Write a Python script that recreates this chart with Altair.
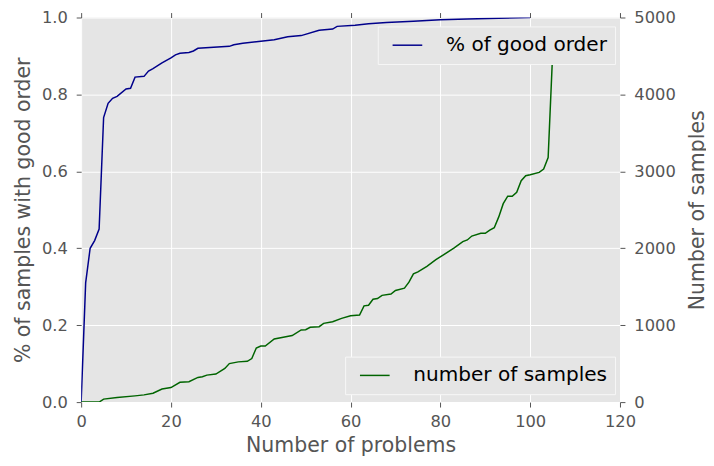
import altair as alt
import pandas as pd

# % of samples with good order (left axis)
blue_x = [0, 1, 2, 3, 4, 5, 6, 7, 8, 10, 11, 12, 14, 15, 16, 18, 20, 21, 22, 24, 25, 26,
          33, 34, 36, 39, 43, 46, 49, 53, 56, 57, 61, 64, 68, 74, 80, 86, 93, 100]
blue_y = [0.0, 0.31, 0.40, 0.42, 0.45, 0.74, 0.777, 0.79, 0.795, 0.814, 0.816, 0.845,
          0.847, 0.861, 0.867, 0.882, 0.895, 0.903, 0.907, 0.909, 0.913, 0.92, 0.925,
          0.929, 0.933, 0.937, 0.942, 0.95, 0.953, 0.967, 0.97, 0.977, 0.98, 0.984,
          0.987, 0.99, 0.994, 0.996, 0.998, 1.0]

# number of samples (right axis)
green_x = [0, 4, 5, 8, 12, 14, 16, 18, 20, 22, 24, 26, 27, 28, 30, 32, 33, 35, 37, 38, 39,
           40, 41, 43, 45, 47, 49, 50, 51, 53, 54, 56, 58, 60, 62, 63, 64, 65, 66, 67, 69,
           70, 72, 73, 74, 75, 77, 79, 83, 85, 86, 87, 89, 90, 91, 92, 93, 94, 95, 96, 97,
           98, 99, 100, 102, 103, 104, 105, 106]
green_v = [0, 0, 39, 60, 81, 94, 116, 171, 189, 257, 266, 321, 330, 351, 364, 437, 501,
           523, 531, 566, 703, 729, 729, 820, 844, 865, 938, 942, 973, 981, 1024, 1045,
           1089, 1122, 1131, 1251, 1260, 1337, 1346, 1388, 1405, 1452, 1482, 1559, 1667,
           1693, 1765, 1851, 2001, 2086, 2108, 2159, 2194, 2194, 2237, 2267, 2408, 2580,
           2677, 2677, 2729, 2879, 2943, 2956, 2986, 3029, 3179, 4529, 4658]

x_ticks = [0, 20, 40, 60, 80, 100, 120]
left_ticks = [0.0, 0.2, 0.4, 0.6, 0.8, 1.0]
right_ticks = [0, 1000, 2000, 3000, 4000, 5000]

blue_df = pd.DataFrame({"x": blue_x, "y": blue_y, "s": "% of good order"})
green_df = pd.DataFrame({"x": green_x, "v": green_v, "s": "number of samples"})

FONT = "DejaVu Sans"
GRAY = "#555555"

common_axis = dict(labelFont=FONT, labelFontSize=16.5, labelColor=GRAY,
                   titleFont=FONT, titleFontSize=20.7, titleColor=GRAY,
                   titleFontWeight="normal", tickColor=GRAY, tickSize=5,
                   domain=False, labelFlush=False)

def legend(x, y):
    return alt.Legend(title=None, orient="none", legendX=x, legendY=y,
                      fillColor="#E5E5E5", strokeColor="#F7F7F7", padding=8,
                      cornerRadius=0, symbolType="M-1.5,0H1.5", symbolSize=400,
                      symbolStrokeWidth=1.5, symbolOffset=11, labelOffset=28,
                      labelFont=FONT, labelFontSize=20.3, labelColor="black",
                      labelLimit=400)

xscale = alt.Scale(domain=[0, 120], nice=False)

blue = alt.Chart(blue_df).mark_line(strokeWidth=1.5, clip=True).encode(
    x=alt.X("x:Q", scale=xscale,
            axis=alt.Axis(values=x_ticks, title="Number of problems", grid=True,
                          gridColor="white", gridWidth=1, labelPadding=7,
                          titlePadding=5, **common_axis)),
    y=alt.Y("y:Q", scale=alt.Scale(domain=[0, 1], nice=False),
            axis=alt.Axis(values=left_ticks, format=".1f",
                          title="% of samples with good order", grid=True,
                          gridColor="white", gridWidth=1, labelPadding=9,
                          titlePadding=8, **common_axis)),
    color=alt.Color("s:N", scale=alt.Scale(range=["#00008B"]), legend=legend(300, 9)),
)

green = alt.Chart(green_df).mark_line(strokeWidth=1.5, clip=True).encode(
    x=alt.X("x:Q", scale=xscale,
            axis=alt.Axis(values=x_ticks, orient="top", labels=False, title=None,
                          grid=False, ticks=True, tickColor=GRAY, tickSize=5,
                          domain=False)),
    y=alt.Y("v:Q", scale=alt.Scale(domain=[0, 5000], nice=False),
            axis=alt.Axis(values=right_ticks, format="d", orient="right",
                          title="Number of samples", titleAngle=270,
                          titleX=78, titleY=194.5, titleAlign="center",
                          titleBaseline="middle",
                          grid=False, labelPadding=9, **common_axis)),
    color=alt.Color("s:N", scale=alt.Scale(range=["#006400"]), legend=legend(267, 343)),
)

chart = alt.layer(blue, green).resolve_scale(
    y="independent", color="independent"
).resolve_axis(x="independent").properties(
    width=545, height=389,
    padding={"left": 74, "top": 7, "right": 87, "bottom": 62},
    autosize=alt.AutoSizeParams(type="none"),
    background="white",
).configure_view(stroke=None, fill="#E5E5E5")

chart.save("out.html", embed_options={"renderer": "svg", "actions": False})
